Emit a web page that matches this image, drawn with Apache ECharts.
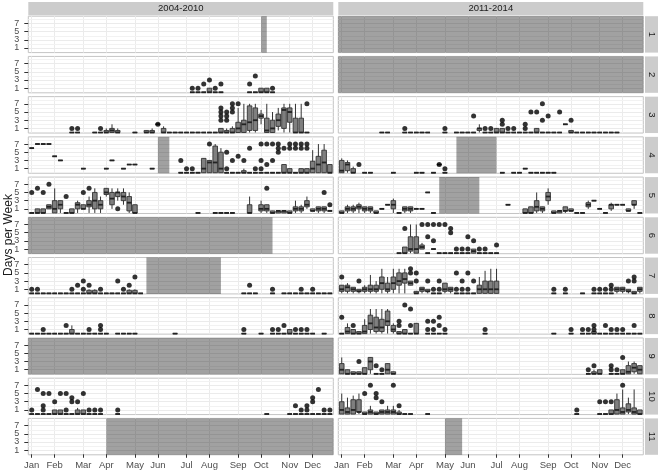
<!DOCTYPE html>
<html><head><meta charset="utf-8">
<script src="https://cdn.jsdelivr.net/npm/echarts@6/dist/echarts.min.js"></script>
<style>html,body{margin:0;padding:0;background:#fff}#c{width:660px;height:473px}</style>
</head><body><div id="c"></div><script>
// ---------- axis ticks / labels ----------
const weekTicks = [1,5,10,14,19,23,28,32,37,41,46,50];
const monthLabels = ['Jan','Feb','Mar','Apr','May','Jun','Jul','Aug','Sep','Oct','Nov','Dec'];
const dayTicks = [1,3,5,7];
const minorDays = [2,4,6,8];
const periods = ['2004-2010','2011-2014'];
const areas = ['1','2','3','4','5','6','7','8','9','10','11'];

// ---------- data: boxes [week, lower, q1, median, q3, upper]; points [week, value]; gaps [fromWeek, toWeek] ----------
const boxes_A1_early = [];
const points_A1_early = [];
const gaps_A1_early = [[41,42]];
const boxes_A1_late = [];
const points_A1_late = [];
const gaps_A1_late = [[0,54]];

const boxes_A2_early = [[29,0,0,0,0,0],[30,0,0,0,0,0],[31,0,0,0,0,0],[32,0,0,0,1,1],[33,0,0,0,0,0],[34,0,0,0,0,0],[39,0,0,0,0,0],[40,0,0,0,0,0],[41,0,0,0,1,1],[42,0,0,0,1,1],[43,0,0,0,0,0]];
const points_A2_early = [[29,1],[30,1],[31,2],[32,3],[33,1],[34,2],[39,2],[40,4],[43,1]];
const gaps_A2_early = [];
const boxes_A2_late = [];
const points_A2_late = [];
const gaps_A2_late = [[0,54]];

const boxes_A3_early = [[8,0,0,0,0,0],[9,0,0,0,0,0],[12,0,0,0,0,0],[13,0,0,0,0,0],[14,0,0,0,0.5,1],[15,0,0,0.5,1,2],[16,0,0,0,0.5,1],[19,0,0,0,0,0],[21,0,0,0,0.5,0.5],[22,0,0,0,0.5,1],[23,2,2,2,2,2],[24,0,0,0,1,1.5],[25,0,0,0,0,0],[26,0,0,0,0,0],[27,0,0,0,0,0],[28,0,0,0,0,0],[29,0,0,0,0,0],[30,0,0,0,0,0],[31,0,0,0,0,0],[32,0,0,0,0,0],[33,0,0,0,0,0],[34,0,0,0,1,1],[35,0,0,0,0.5,1],[36,0,0,0,1,1.5],[37,0,0,1,2.5,6],[38,0,0,2,3,7],[39,0,0.5,2.5,6.5,7],[40,0,0.5,3,6,7],[41,2,3.5,4,4.5,5.5],[42,0,0,0.5,3.5,7],[43,0,0,1,3,5],[44,0.5,1.5,3,4.5,6],[45,0,1,5.5,6,7],[46,0,2.5,5,6,7],[47,0,0,0,3.5,7],[48,0,0,0,3.5,7],[49,0,0,0,0,0]];
const points_A3_early = [[8,1],[9,1],[13,1],[23,2],[34,3],[34,4],[34,5],[34,6],[35,3],[35,4],[35,5],[36,5],[36,6],[36,7],[37,7],[49,7]];
const gaps_A3_early = [];
const boxes_A3_late = [[8,0,0,0,0,0],[9,0,0,0,0,0],[12,0,0,0,0,0],[13,0,0,0,0,0],[14,0,0,0,0,0],[15,0,0,0,0,0],[16,0,0,0,0,0],[19,0,0,0,0,0],[21,0,0,0,0,0],[22,0,0,0,0,0],[23,0,0,0,0,0],[24,0,0,0,0,0],[25,0,0.5,1,1,2],[26,0,0,0,0,0],[27,0,0,0,0,0],[28,0,0,0,1,1],[29,0,0,0,1,1],[30,0,0,0,0,0],[31,0,0,0,0,0],[32,0,0,0,0,0],[33,0,0,0,0,0],[34,0,0,0,0,0],[35,0,0,0,1,1],[36,0,0,0,0,0],[37,0,0,0,0,0],[38,0,0,0,0,0],[39,0,0,0,0,0],[40,2,2,2,2,2],[41,0,0,0,0.5,0.5],[42,0,0,0,0,0],[43,0,0,0,0,0],[44,0,0,0,0,0],[45,0,0,0,0,0],[46,0,0,0,0,0],[47,0,0,0,0,0],[48,0,0,0,0,0],[49,0,0,0,0,0]];
const points_A3_late = [[12,1],[19,1],[24,4],[26,1],[27,1],[29,2],[29,3],[30,1],[31,1],[33,1],[33,2],[34,5],[35,5],[36,7],[36,3],[37,4],[39,5],[41,3]];
const gaps_A3_late = [];

const boxes_A4_early = [[1,6,6,6,6,6],[2,7,7,7,7,7],[3,7,7,7,7,7],[4,7,7,7,7,7],[5,4,4,4,4,4],[6,3,3,3,3,3],[10,1,1,1,1,1],[14,1,1,1,1,1],[15,3,3,3,3,3],[17,1,1,1,1,1],[18,2,2,2,2,2],[19,2,2,2,2,2],[22,1,1,1,1,1],[27,0,0,0,0,0],[28,0,0,0,0,0],[29,0,0,0,0,0],[30,0,0,0,0,0],[31,0,0,1,3.5,3.5],[32,0,0,2.5,3,3],[33,0,0,2.5,6.5,7],[34,0,0,1,5,6],[35,0,0,0,0,0],[36,0,0,0,0,0],[37,0,0,0,0,0],[38,0,0,0,0.5,1],[39,0,0,0,0,0],[40,0,0,0,0,0],[41,0,0,0,0,0],[42,0,0,0,0,0],[43,0,0,0,0,0],[44,0,0,0,0,0],[45,0,0,0,2,2],[46,0,0,0,1,1],[47,0,0,0,0,0],[48,0,0,0,1,1],[49,0,0,0,1,1],[50,0,0,1,2.8,5.5],[51,0,0,2,4,7],[52,0,0,2.5,5.5,7],[53,0,0,0,2,2]];
const points_A4_early = [[27,3],[28,1],[29,1],[32,7],[35,5],[35,1],[36,3],[37,4],[38,3],[39,6],[40,1],[41,7],[41,3],[41,1],[42,7],[42,2],[43,7],[43,3],[44,7],[44,6],[44,5],[45,6],[46,7],[46,6],[47,7],[47,6],[48,7],[48,6],[49,7],[49,6]];
const gaps_A4_early = [[23,25]];
const boxes_A4_late = [[1,0,0,0.5,3,3.5],[2,0,0.5,2,2.5,3],[3,0,0,0,1,1.5],[5,0,0,0,0,0],[6,0,0,0,0,0],[10,0,0,0,0,0],[14,0,0,0,0,0],[15,0,0,0,0,0],[17,0,0,0,0,0],[18,2,2,2,2,2],[19,0,0,0,0,0],[29,0,0,0,0,0],[31,0,0,0,0,0],[32,0,0,0,0,0],[33,1,1,1,1,1],[34,0,0,0,0,0],[35,0,0,0,0,0],[36,0,0,0,0,0],[37,0,0,0,0,0],[38,0,0,0,0,0]];
const points_A4_late = [[4,2],[18,2],[19,1]];
const gaps_A4_late = [[21,28]];

const boxes_A5_early = [[1,0,0,0,0,0],[2,0,0,0,1,1],[3,0,0,0,1,1],[4,1,1,1.5,2,2],[5,0,0,1,3,6],[6,0,1,2,3,3],[7,0,0,0,0,0],[8,0,0,0,1,1],[9,0,1,2,2.5,3],[10,1,1,1,2,2],[11,0,1.5,2,3,4],[12,0,1,3,5,6],[13,0,1,2,3,4],[14,4,4.5,5,6,6],[15,1,2,3.5,5,6],[16,3,4,5,5,6],[17,2,3,4,5,6],[18,0,0.5,2.5,4,5],[19,0,0,0,2,2],[30,0,0,0,0,0],[33,0,0,0,0,0],[34,0,0,0,0,0],[35,0,0,0,0,0],[36,0,0,0,0,0],[39,0,0,0,2,4],[41,0,0.5,1,2,3],[42,0,0.5,1,2,2],[43,0,0,0,0.5,0.5],[44,0,0,0.5,0.5,0.5],[45,0,0,0.5,0.5,0.5],[46,0,0,0,0.5,0.5],[47,0,0.5,1,1.5,3],[48,0,0.5,1,1.5,2],[49,1,1.5,2,3,4],[50,0.5,0.5,0.5,1,1],[51,0,0.5,1,1.5,1.5],[52,0,0.5,1,1.5,1.5],[53,0.5,0.5,0.5,0.5,0.5]];
const points_A5_early = [[1,5],[2,6],[3,5],[4,7],[7,4],[10,5],[11,6],[16,1],[42,6],[52,5],[53,2]];
const gaps_A5_early = [];
const boxes_A5_late = [[1,0,0,0,0.5,0.5],[2,0,0.5,1,1.5,2],[3,0,0.5,1,1.5,2],[4,0,1,1.5,2,2.5],[5,0,0.5,1,1.5,1.5],[6,0,0.5,1,1.5,1.5],[7,0,0,0,0.5,0.5],[8,1,1,1,1,1],[9,2,2,2,2,2],[10,0,1,2,3,3.5],[11,0,0,0,0,0],[12,0,0.5,1,1.5,1.5],[13,0,0.5,1,1.5,1.5],[14,1,1,1,1,1],[15,1,1,1,1,1],[16,5,5,5,5,5],[17,0,0,0,0,0],[30,2,2,2,2,2],[33,0,0,0,1,1],[34,0,0,0,1.5,1.5],[35,0,0.5,1.5,3,5],[36,0,0.5,1,1.5,1.5],[37,2,3,4,5,6],[38,0,0,0,0.5,0.5],[39,0,0,0.5,0.5,0.5],[40,0,0.5,0.5,1.5,1.5],[41,0.5,0.5,0.5,1,1],[42,0,0,0,0,0],[43,0,0,0,0,0],[44,1,1.5,2,2.5,3],[45,3,3,3,3,3],[46,1,1,1,1,1],[47,0,0,0,0,0],[48,0.5,1,2,2,2.5],[49,2,2,2,2,2],[50,2,2,2,2,2],[51,0.5,0.5,0.5,1,1],[52,1,2,2,3,3],[53,0,0,0,0,0]];
const points_A5_late = [];
const gaps_A5_late = [[18,25]];

const boxes_A6_early = [];
const points_A6_early = [];
const gaps_A6_early = [[0,43]];
const boxes_A6_late = [[11,0,0,0,0,0],[12,0,0,0,1.5,1.5],[13,0,0.5,1,4,7],[14,0,0,1,4,7],[15,1,1,1.5,2,2.5],[16,0,0,0,0,0],[17,1,1,1,1,1],[18,0,0,0,0,0],[19,0,0,0,0,0],[20,0,0,0,0,0],[21,0,0,0,0,0],[22,0,0,0,0,0],[23,0,0,0,0,0],[24,0,0,0.5,1,1],[25,0,0,0,0,0],[26,0,0,0,0,0],[27,0,0,0,0,0],[28,0,0,0,0,0]];
const points_A6_late = [[12,6],[15,7],[16,7],[16,4],[17,7],[17,3],[18,7],[19,7],[20,6],[20,5],[21,1],[22,1],[23,1],[23,4],[24,3],[25,1],[26,1],[28,2]];
const gaps_A6_late = [];

const boxes_A7_early = [[1,0,0,0,0,0],[2,0,0,0,0,0],[3,0,0,0,0,0],[4,0,0,0,0,0],[5,0,0,0,0,0],[6,0,0,0,0,0],[7,0,0,0,0,0],[8,0,0,0,0,0],[9,0,0,0,0,0],[10,0,0,0,0,0],[11,0,0,0,0.75,1],[12,0,0,0,0.75,1],[13,0,0,0,0,0],[14,0,0,0,0,0],[15,0,0,0,0,0],[16,0,0,0,0,0],[17,0,0,0,0,0],[18,0,0,0,0.75,1],[19,0,0,0,0.75,1],[20,0,0,0,0,0],[38,0,0,0,0,0],[39,0,0,0,0,0],[40,0,0,0,0,0],[43,0,0,0,0,0],[45,0,0,0,0,0],[46,0,0,0,0,0],[47,0,0,0,0,0],[48,0,0,0,0,0],[49,0,0,0,0,0],[50,0,0,0,0,0],[51,0,0,0,0,0],[52,0,0,0,0,0],[53,0,0,0,0,0]];
const points_A7_early = [[1,1],[2,1],[8,1],[9,2],[10,3],[10,1],[11,2],[13,1],[16,3],[17,1],[18,2],[19,4],[39,2],[43,1],[48,1],[50,1]];
const gaps_A7_early = [[21,34]];
const boxes_A7_late = [[1,0,0.5,1,2,2],[2,0,0.5,1.5,2,2.5],[3,0,0.5,1,1.5,1.5],[4,0,0.5,0.5,1,1],[5,0,0.5,1,1.5,2],[6,0,0.5,1,2,4.5],[7,0,0.5,1,2,3],[8,0,1,2.5,4,6],[9,0,0.5,1,2.5,4],[10,0,1,2.5,4,6],[11,0,2,3,5,6],[12,0,2.5,3.5,5,6],[13,2,2,2.5,3,3],[14,0,0,0,0.5,0.5],[15,0,0.5,1,1.5,1.5],[16,0,0.5,0.5,1,1],[17,0,0,0,0,0],[18,0,0,0,0,0],[19,0,0.5,1,2.5,2.5],[20,0,0.5,1,1.5,1.5],[21,0,0,0,0,0],[22,0,0,0,0,0],[23,0,0,0,0,0],[24,0,0,0,0,0],[25,0,0,1,2,4],[26,0,0,1,3,5.5],[27,0,0,1,3,6],[28,0,0,1,3,6],[38,0,0,0,0,0],[40,0,0,0,0,0],[43,0,0,0,0,0],[45,0,0,0,0,0],[46,0,0,0,0,0],[47,0,0,0,0,0],[48,0,0,0,0,0],[49,0,0.5,1,1.5,1.5],[50,0,0.5,1,1.5,1.5],[51,0,0.5,0.5,1,1],[52,0,0,0,0.5,0.5],[53,0,0.5,1,1.5,1.5]];
const points_A7_late = [[1,4],[4,3],[13,6],[13,5],[14,5],[14,3],[16,3],[17,1],[18,3],[18,1],[21,5],[21,1],[22,3],[22,1],[23,5],[23,1],[24,3],[38,1],[40,1],[45,1],[46,1],[47,1],[48,2],[48,1],[51,3],[52,4],[52,3]];
const gaps_A7_late = [];

const boxes_A8_early = [[1,0,0,0,0,0],[2,0,0,0,0,0],[3,0,0,0,0,0],[4,0,0,0,0,0],[5,0,0,0,0,0],[6,0,0,0,0,0],[7,0,0,0,0,0],[8,0,0,0,1,2],[9,0,0,0,0,0],[10,0,0,0,0,0],[11,0,0,0,0,0],[12,0,0,0,0,0],[13,0,0,0,0,0],[14,0,0,0,0,0],[16,0,0,0,0,0],[17,0,0,0,0,0],[18,0,0,0,0,0],[19,0,0,0,0,0],[26,0,0,0,0,0],[38,0,0,0,0,0],[41,0,0,0,0,0],[43,0,0,0,0,0],[44,0,0,0,0,0],[45,0,0,0,0,0],[46,0,0,0,1,1],[47,0,0,0,0,0],[48,0,0,0,0,0],[49,0,0,0,0,0],[50,0,0,0,0,0],[52,0,0,0,0,0]];
const points_A8_early = [[3,1],[7,2],[11,1],[13,2],[13,1],[38,1],[43,1],[44,1],[45,2],[47,1],[48,1],[49,1]];
const gaps_A8_early = [];
const boxes_A8_late = [[1,0,0,0,0,0],[2,0,0,0.5,1.5,2.5],[3,0,0,0,1,1],[4,0,0,0,0.5,0.5],[5,0,0,0.5,2,3.5],[6,0,1,2.5,4.5,6],[7,0,0.5,1.5,4,6],[8,0,0.5,1.5,3.5,6],[9,0,2,3,5.5,6],[10,0,0.5,1,2,2.5],[11,0,0,0,0.5,0.5],[12,0,0,0,1,1],[13,0,0,0,0,0],[14,0,0,0,2.5,2.5],[16,0,0,0,0,0],[17,0,0,0,0,0],[18,0,0,0,0,0],[19,0,0,0,0,0],[26,0,0,0,0,0],[38,0,0,0,0,0],[41,0,0,0,0,0],[43,0,0,0,0,0],[44,0,0,0,0,0],[45,0,0,0,0.5,0.5],[46,0,0,0,0,0],[47,0,0,0,0,0],[48,0,0,0,0,0],[49,0,0,0,0,0],[50,0,0,0,0,0],[51,0,0,0,0,0],[52,0,0,0,0,0],[53,0,0,0,0,0]];
const points_A8_late = [[1,4],[3,2],[11,3],[11,2],[12,7],[13,6],[13,2],[16,3],[16,1],[17,3],[17,1],[18,4],[18,2],[19,1],[26,1],[41,1],[43,1],[44,1],[45,2],[45,1],[47,2],[48,1],[49,1],[50,1],[52,2]];
const gaps_A8_late = [];

const boxes_A9_early = [];
const points_A9_early = [];
const gaps_A9_early = [[0,54]];
const boxes_A9_late = [[1,0,0,1,2.5,4],[2,0,0,0,1,1],[3,0,0,0,0.5,0.5],[4,0,0,0,0.5,0.5],[5,0,0,0,1.5,1.5],[6,0,1,3,4,4],[7,0,0,0,0,0],[8,0,0,0,0,0],[9,0,0,1,2.5,2.5],[10,0,0,0,0.5,0.5],[44,0,0,0,0,0],[45,0,0,0,0.5,1],[46,0,0,0,1,1],[48,0,0,0,0,0],[49,0,0,0,0,0],[50,0,0,0,1,1],[51,0,0,0.5,2,3],[52,0,0.5,1.5,2.5,3],[53,0,0,1,2,2]];
const points_A9_late = [[4,3],[7,2],[8,1],[44,1],[45,2],[48,2],[48,1],[49,1],[50,4]];
const gaps_A9_late = [];

const boxes_A10_early = [[1,0,0,0,0,0],[2,0,0,0,0,0],[3,0,0,0,0,0],[4,0,0,0,0,0],[5,0,0,0,1,1],[6,0,0,0,1,1],[7,0,0,0,0,0],[8,0,0,0,0,0],[9,0,0,0,1,1.5],[10,0,0,0,1,1],[11,0,0,0,0,0],[12,0,0,0,0,0],[13,0,0,0,0,0],[16,0,0,0,0,0],[42,0,0,0,0,0],[46,0,0,0,0,0],[47,0,0,0,0,0],[48,0,0,0,0,0],[49,0,0,0,0,0],[50,0,0,0,0,0],[51,0,0,0,0,0],[52,0,0,0,0,0],[53,0,0,0,0,0]];
const points_A10_early = [[1,1],[2,6],[3,5],[3,2],[3,1],[4,5],[5,3],[6,5],[7,5],[7,1],[8,4],[8,3],[9,3],[10,5],[11,1],[12,1],[13,1],[16,1],[47,2],[48,1],[49,2],[49,1],[50,4],[50,3],[51,6],[52,1],[53,1]];
const gaps_A10_early = [];
const boxes_A10_late = [[1,0,0,1,3,5],[2,0,0,0.5,1.5,4],[3,0,0,1,3.5,4.5],[4,0,0.5,0.5,3.5,5],[5,0,0,0,0.5,0.5],[6,0,0,0.5,1,2],[7,0,0,0,0.5,0.5],[8,0,0,0.5,1,1],[9,0,0,0.5,1,2],[10,0,0,0.5,1,2],[11,0,0,0,0.5,1],[12,0,0,0,0,0],[13,0,0,0,0,0],[16,0,0,0,0,0],[42,0,0,0,0,0],[46,0,0,0,0,0],[47,0,0,0,0,0],[48,0,0,0,1,1],[49,0,0,1,3.5,5],[50,0,0,0.5,1.5,6],[51,0,0.5,1,2.5,4],[52,0,0,0.5,1.5,6],[53,0,0,0,1,1]];
const points_A10_late = [[5,5],[6,7],[7,5],[7,4],[8,3],[10,7],[11,2],[42,1],[46,3],[47,3],[48,3],[50,7]];
const gaps_A10_late = [];

const boxes_A11_early = [];
const points_A11_early = [];
const gaps_A11_early = [[14,54]];
const boxes_A11_late = [];
const points_A11_late = [];
const gaps_A11_late = [[19,22]];

const panels = [
  [[boxes_A1_early, points_A1_early, gaps_A1_early], [boxes_A1_late, points_A1_late, gaps_A1_late]],
  [[boxes_A2_early, points_A2_early, gaps_A2_early], [boxes_A2_late, points_A2_late, gaps_A2_late]],
  [[boxes_A3_early, points_A3_early, gaps_A3_early], [boxes_A3_late, points_A3_late, gaps_A3_late]],
  [[boxes_A4_early, points_A4_early, gaps_A4_early], [boxes_A4_late, points_A4_late, gaps_A4_late]],
  [[boxes_A5_early, points_A5_early, gaps_A5_early], [boxes_A5_late, points_A5_late, gaps_A5_late]],
  [[boxes_A6_early, points_A6_early, gaps_A6_early], [boxes_A6_late, points_A6_late, gaps_A6_late]],
  [[boxes_A7_early, points_A7_early, gaps_A7_early], [boxes_A7_late, points_A7_late, gaps_A7_late]],
  [[boxes_A8_early, points_A8_early, gaps_A8_early], [boxes_A8_late, points_A8_late, gaps_A8_late]],
  [[boxes_A9_early, points_A9_early, gaps_A9_early], [boxes_A9_late, points_A9_late, gaps_A9_late]],
  [[boxes_A10_early, points_A10_early, gaps_A10_early], [boxes_A10_late, points_A10_late, gaps_A10_late]],
  [[boxes_A11_early, points_A11_early, gaps_A11_early], [boxes_A11_late, points_A11_late, gaps_A11_late]]
];

// ---------- layout ----------
const FONT = 'Liberation Sans, Arial, Helvetica, sans-serif';
const PANEL_LEFT = [28.3, 338.3];
const PANEL_W = 305;
const ROW_TOP0 = 16.2;
const ROW_PITCH = 40.22;
const PANEL_H = 36.4;
const X_MIN = 0.4, X_MAX = 53.6;
const Y_MIN = -0.13, Y_MAX = 8.75;
// day ticks are split over two stacked axes so that the tight labels are never auto-hidden
const dayTickSets = [dayTicks.filter((_, i) => i % 2 === 0), dayTicks.filter((_, i) => i % 2 === 1)];

function minorRender(params, api) {
  const cs = params.coordSys;
  const y = Math.round(api.coord([api.value(0), api.value(1)])[1]) + 0.5;
  return {type: 'line', shape: {x1: cs.x, y1: y, x2: cs.x + cs.width, y2: y},
    style: {stroke: '#f2f2f2', lineWidth: 1}, silent: true};
}
function gapRender(params, api) {
  const cs = params.coordSys;
  let x0 = api.coord([api.value(0), 0])[0];
  let x1 = api.coord([api.value(1), 0])[0];
  x0 = Math.max(x0, cs.x); x1 = Math.min(x1, cs.x + cs.width);
  return {type: 'rect', shape: {x: x0, y: cs.y, width: x1 - x0, height: cs.height},
    style: {fill: 'rgba(0,0,0,0.37)'}, silent: true};
}
function boxRender(params, api) {
  const w = api.value(0);
  const pLo = api.coord([w, api.value(1)]);
  const pQ1 = api.coord([w, api.value(2)]);
  const pMed = api.coord([w, api.value(3)]);
  const pQ3 = api.coord([w, api.value(4)]);
  const pHi = api.coord([w, api.value(5)]);
  const half = api.size([1, 0])[0] * 0.4;
  const x = pLo[0];
  return {type: 'group', children: [
    {type: 'line', shape: {x1: x, y1: pLo[1], x2: x, y2: pHi[1]}, style: {stroke: '#333', lineWidth: 1}},
    {type: 'rect', shape: {x: x - half, y: pQ3[1], width: 2 * half, height: pQ1[1] - pQ3[1]},
      style: {fill: '#7f7f7f', stroke: '#333', lineWidth: 0.9}},
    {type: 'line', shape: {x1: x - half, y1: pMed[1], x2: x + half, y2: pMed[1]}, style: {stroke: '#222', lineWidth: 1.8}}
  ]};
}

const grids = [], xAxes = [], yAxes = [], yAxesExtra = [], series = [], graphics = [];
const nPanels = panels.length * 2;
function makeYAxis(gi, ticks, isLeft) {
  return {type: 'value', gridIndex: gi, min: Y_MIN, max: Y_MAX, position: 'left', offset: 0,
    axisLine: {show: false},
    axisTick: {show: isLeft, customValues: ticks, length: 4, lineStyle: {color: '#333', width: 1}},
    axisLabel: {show: isLeft, customValues: ticks, margin: 9, fontSize: 9, color: '#4d4d4d', fontFamily: FONT,
      showMinLabel: true, showMaxLabel: true, hideOverlap: false},
    splitLine: {show: true, lineStyle: {color: '#ebebeb', width: 1}}};
}
panels.forEach((row, r) => {
  row.forEach((p, c) => {
    const gi = grids.length;
    const top = ROW_TOP0 + r * ROW_PITCH;
    const isBottom = r === panels.length - 1;
    const isLeft = c === 0;
    grids.push({left: PANEL_LEFT[c], top: top, width: PANEL_W, height: PANEL_H,
      show: true, borderColor: '#c4c4c4', borderWidth: 1, backgroundColor: '#ffffff'});
    xAxes.push({type: 'value', gridIndex: gi, min: X_MIN, max: X_MAX,
      axisLine: {show: false},
      axisTick: {show: isBottom, customValues: weekTicks, length: 3.5, lineStyle: {color: '#333', width: 1}},
      axisLabel: {show: isBottom, customValues: weekTicks, margin: 6, fontSize: 9.5, color: '#4d4d4d', fontFamily: FONT,
        showMinLabel: true, showMaxLabel: true, hideOverlap: false,
        formatter: v => monthLabels[weekTicks.indexOf(v)]},
      splitLine: {show: true, lineStyle: {color: '#ebebeb', width: 1}}});
    yAxes.push(makeYAxis(gi, dayTickSets[0], isLeft));
    yAxesExtra.push(makeYAxis(gi, dayTickSets[1], isLeft));
    series.push({type: 'custom', xAxisIndex: gi, yAxisIndex: gi, z: 1, silent: true, animation: false,
      data: minorDays.map(v => [weekTicks[0], v]), renderItem: minorRender});
    series.push({type: 'custom', xAxisIndex: gi, yAxisIndex: gi, z: 2, silent: true, animation: false,
      data: p[2], renderItem: gapRender});
    series.push({type: 'custom', xAxisIndex: gi, yAxisIndex: gi, z: 3, silent: true, animation: false,
      data: p[0], renderItem: boxRender});
    series.push({type: 'scatter', xAxisIndex: gi, yAxisIndex: gi, z: 4, silent: true, animation: false,
      data: p[1], symbol: 'circle', symbolSize: 5, itemStyle: {color: '#000'}});
  });
  // right strip
  const top = ROW_TOP0 + r * ROW_PITCH;
  graphics.push({type: 'rect', shape: {x: 645, y: top, width: 13, height: PANEL_H}, style: {fill: '#cccccc'}});
  graphics.push({type: 'text', x: 651.5, y: top + PANEL_H / 2, rotation: -Math.PI / 2,
    style: {text: areas[r], fill: '#1a1a1a', font: '9.5px ' + FONT, align: 'center', verticalAlign: 'middle'}});
});
periods.forEach((t, c) => {
  graphics.push({type: 'rect', shape: {x: PANEL_LEFT[c], y: 2, width: PANEL_W, height: 13.2}, style: {fill: '#cccccc'}});
  graphics.push({type: 'text', x: PANEL_LEFT[c] + PANEL_W / 2, y: 8.8,
    style: {text: t, fill: '#1a1a1a', font: '9.5px ' + FONT, align: 'center', verticalAlign: 'middle'}});
});
graphics.push({type: 'text', x: 9, y: 235, rotation: Math.PI / 2,
  style: {text: 'Days per Week', fill: '#1a1a1a', font: '12px ' + FONT, align: 'center', verticalAlign: 'middle'}});

const chart = echarts.init(document.getElementById('c'), null, {renderer: 'canvas'});
chart.setOption({
  animation: false,
  backgroundColor: '#ffffff',
  grid: grids, xAxis: xAxes, yAxis: yAxes.concat(yAxesExtra), series: series, graphic: graphics
});
</script></body></html>
